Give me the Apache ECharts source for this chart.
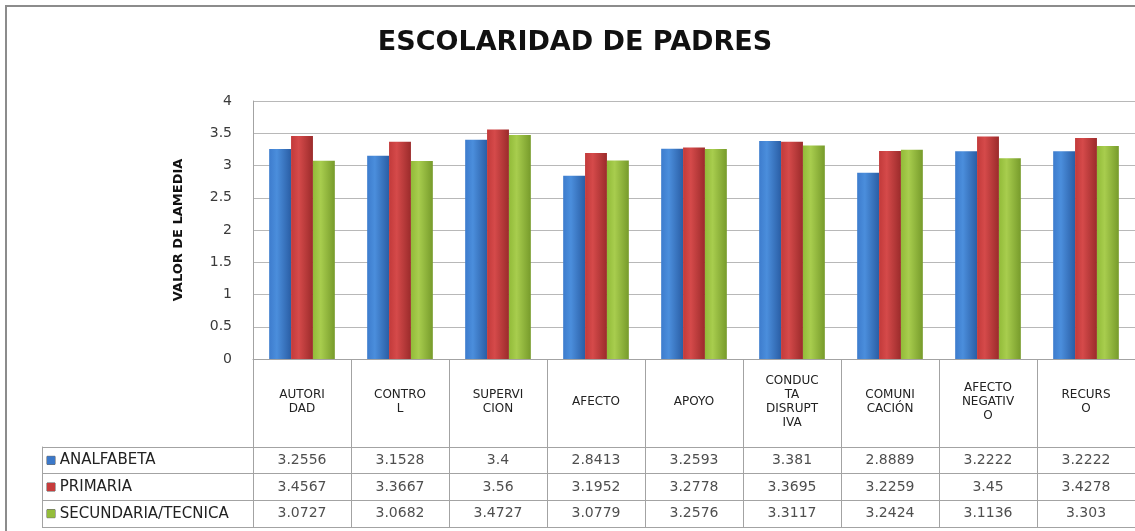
<!DOCTYPE html>
<html>
<head>
<meta charset="utf-8">
<script src="https://cdn.jsdelivr.net/npm/echarts@6/dist/echarts.min.js"></script>
<style>
html,body{margin:0;padding:0;background:#fff;overflow:hidden;}
#chart{width:1135px;height:531px;}
</style>
</head>
<body>
<div id="chart"></div>
<script>
// ---- data ----
var categories = ['AUTORIDAD','CONTROL','SUPERVICION','AFECTO','APOYO','CONDUCTA DISRUPTIVA','COMUNICACIÓN','AFECTO NEGATIVO','RECURSO'];
var tickLabels = ['AUTORI\nDAD','CONTRO\nL','SUPERVI\nCION','AFECTO','APOYO','CONDUC\nTA\nDISRUPT\nIVA','COMUNI\nCACIÓN','AFECTO\nNEGATIV\nO','RECURS\nO'];
var seriesNames = ['ANALFABETA','PRIMARIA','SECUNDARIA/TECNICA'];
var analfabeta = [3.2556, 3.1528, 3.4, 2.8413, 3.2593, 3.381, 2.8889, 3.2222, 3.2222];
var primaria   = [3.4567, 3.3667, 3.56, 3.1952, 3.2778, 3.3695, 3.2259, 3.45, 3.4278];
var secundaria = [3.0727, 3.0682, 3.4727, 3.0779, 3.2576, 3.3117, 3.2424, 3.1136, 3.303];
var yTicks = [0, 0.5, 1, 1.5, 2, 2.5, 3, 3.5, 4];

// ---- styling ----
var FONT = 'DejaVu Sans';
var LINE = '#a3a3a3';
var swatch = ['#3b78c9', '#c63c3c', '#94bd3b'];
function grad(a, b, c) {
  return new echarts.graphic.LinearGradient(0, 0, 1, 0, [
    {offset: 0, color: a}, {offset: 0.35, color: b}, {offset: 1, color: c}
  ]);
}
var barColors = [
  grad('#3d7ccd', '#4b8edc', '#2a5ea5'),
  grad('#c23a3a', '#d54a4a', '#9b2b2b'),
  grad('#92bb39', '#a8cd4e', '#779b2b')
];
var allValues = [analfabeta, primaria, secundaria];

var barSeries = allValues.map(function (vals, s) {
  return {
    type: 'bar',
    name: seriesNames[s],
    xAxisIndex: 0, yAxisIndex: 0,
    data: vals,
    barGap: '0%',
    barCategoryGap: '33%',
    itemStyle: {color: barColors[s]},
    silent: true
  };
});

var cellData = [];
allValues.forEach(function (vals, s) {
  vals.forEach(function (v, i) { cellData.push([i, s, v]); });
});

var rich = {};
swatch.forEach(function (c, i) {
  rich['i' + i] = {width: 8, height: 8, backgroundColor: c, borderColor: '#555', borderWidth: 0.5};
});

var chart = echarts.init(document.getElementById('chart'), null, {renderer: 'canvas'});
chart.setOption({
  animation: false,
  backgroundColor: '#fff',
  title: {
    text: 'ESCOLARIDAD DE PADRES',
    left: 570,
    textAlign: 'center',
    top: 24,
    textStyle: {fontFamily: FONT, fontWeight: 'bold', fontSize: 27, color: '#111'}
  },
  graphic: [{
    type: 'rect', silent: true, z: -10,
    shape: {x: 6, y: 6, width: 1300, height: 700},
    style: {fill: 'none', stroke: '#8c8c8c', lineWidth: 2}
  }],
  grid: [
    {left: 253, top: 101, width: 888, height: 258},
    {left: 253, top: 447, width: 888, height: 80},
    {left: 42, top: 447, width: 211, height: 80}
  ],
  xAxis: [
    {
      gridIndex: 0, type: 'category', data: tickLabels,
      axisLine: {show: true, lineStyle: {color: LINE}},
      axisTick: {show: true, interval: 0, length: 168, lineStyle: {color: LINE}},
      axisLabel: {interval: 0, margin: 43, verticalAlign: 'middle', lineHeight: 14,
                  fontSize: 12, fontFamily: FONT, color: '#222'}
    },
    {gridIndex: 1, type: 'category', data: categories, show: false},
    {gridIndex: 2, type: 'category', data: ['-'], show: false}
  ],
  yAxis: [
    {
      gridIndex: 0, type: 'value', min: yTicks[0], max: yTicks[yTicks.length - 1], interval: 0.5,
      axisLine: {show: true, lineStyle: {color: LINE}},
      axisTick: {show: false},
      splitLine: {show: true, lineStyle: {color: '#b8b8b8'}},
      axisLabel: {margin: 21, fontSize: 14, fontFamily: FONT, color: '#3a3a3a'},
      name: 'VALOR DE LAMEDIA', nameLocation: 'middle', nameGap: 68,
      nameTextStyle: {fontFamily: FONT, fontWeight: 'bold', fontSize: 13, color: '#111'}
    },
    {
      gridIndex: 1, type: 'category', data: seriesNames, inverse: true,
      axisLine: {show: false}, axisTick: {show: false}, axisLabel: {show: false},
      splitLine: {show: true, lineStyle: {color: LINE}}
    },
    {
      gridIndex: 2, type: 'category', data: seriesNames, inverse: true,
      axisLine: {show: true, lineStyle: {color: LINE}}, axisTick: {show: false},
      splitLine: {show: true, lineStyle: {color: LINE}},
      axisLabel: {
        inside: true, margin: 5, fontSize: 15, fontFamily: FONT, color: '#222',
        formatter: function (v, i) { return '{i' + i + '|} ' + v; },
        rich: rich
      }
    }
  ],
  series: barSeries.concat([{
    type: 'scatter',
    xAxisIndex: 1, yAxisIndex: 1,
    data: cellData,
    symbolSize: 0,
    silent: true,
    itemStyle: {color: 'transparent'},
    label: {
      show: true, position: 'inside',
      formatter: function (p) { return String(p.data[2]); },
      fontSize: 14, fontFamily: FONT, color: '#222'
    }
  }])
});
</script>
</body>
</html>
